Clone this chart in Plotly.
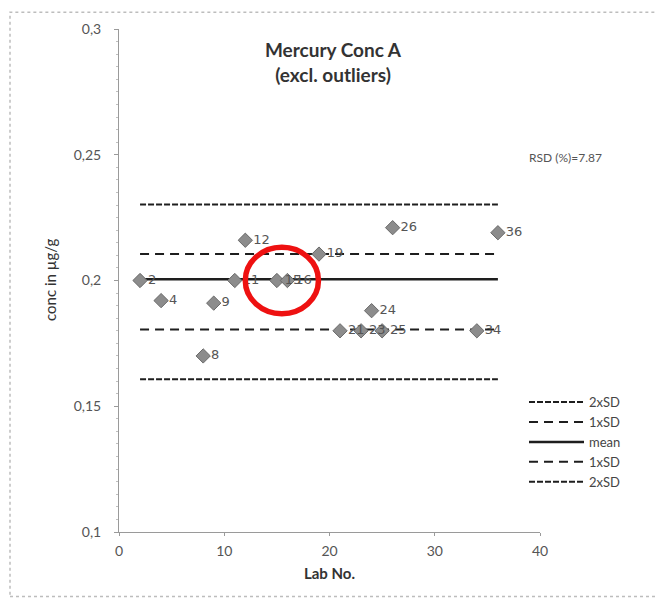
import plotly.graph_objects as go

# ---- data ----
labs = [2, 4, 8, 9, 11, 12, 15, 16, 19, 21, 23, 24, 25, 26, 34, 36]
conc = [0.200, 0.192, 0.170, 0.191, 0.200, 0.216, 0.200, 0.200, 0.2105,
        0.180, 0.180, 0.188, 0.180, 0.221, 0.180, 0.219]

line_x = [2, 36]
upper_2sd = 0.2302
upper_1sd = 0.2105
mean_val = 0.2005
lower_1sd = 0.1805
lower_2sd = 0.1607

y_tickvals = [0.1, 0.15, 0.2, 0.25, 0.3]
y_ticktext = ["0,1", "0,15", "0,2", "0,25", "0,3"]
x_tickvals = [0, 10, 20, 30, 40]
x_ticktext = ["0", "10", "20", "30", "40"]

rsd_text = "RSD (%)=7.87"

# page offset (body margin) and plot-area geometry in figure pixels
OFF = 8
PL, PR, PT, PB = 119 - OFF, 540 - OFF, 25 - OFF, 532 - OFF
W, H = 664, 602
PW, PH = PR - PL, PB - PT


def px(x):  # screen x -> paper
    return (x - OFF - PL) / PW


def py(y):  # screen y -> paper
    return (PB - (y - OFF)) / PH


fig = go.Figure()

lines = [
    ("2xSD", upper_2sd, "6px,2px", 2),
    ("1xSD", upper_1sd, "9px,6px", 2),
    ("mean", mean_val, "solid", 2.5),
    ("1xSD", lower_1sd, "9px,6px", 2),
    ("2xSD", lower_2sd, "6px,2px", 2),
]
for name, val, dash, w in lines:
    fig.add_trace(go.Scatter(
        x=line_x, y=[val, val], mode="lines", name=name,
        line=dict(color="#1e1e1e", width=w, dash=dash),
        hoverinfo="skip",
    ))

fig.add_trace(go.Scatter(
    x=labs, y=conc, mode="markers+text",
    text=[str(l) for l in labs], textposition="middle right",
    textfont=dict(family="DejaVu Sans", size=13, color="#555555"),
    marker=dict(symbol="diamond", size=11, color="#8c8c8c",
                line=dict(color="#6a6a6a", width=1)),
    showlegend=False,
))

# red highlight circle
fig.add_shape(type="circle", xref="x", yref="y",
              x0=12.0, x1=18.95, y0=0.1868, y1=0.2132,
              line=dict(color="#ee1111", width=5.5))

# outer frame
fig.add_shape(type="rect", xref="paper", yref="paper",
              x0=px(10), x1=px(700), y0=py(597), y1=py(8),
              line=dict(color="#bdbdbd", width=1.5, dash="dot"))

fig.add_annotation(text=rsd_text, xref="paper", yref="paper",
                   x=px(565), y=py(155), xanchor="center", yanchor="middle",
                   showarrow=False,
                   font=dict(family="Lato", size=12, color="#555555"))

fig.add_annotation(text="conc in µg/g", xref="paper", yref="paper",
                   x=px(50), y=py(278), xanchor="center", yanchor="middle",
                   textangle=-90, showarrow=False,
                   font=dict(family="Lato", size=15, color="#333333"))

fig.update_layout(
    width=W, height=H,
    margin=dict(l=PL, r=W - PR, t=PT, b=H - PB),
    paper_bgcolor="white", plot_bgcolor="white",
    title=dict(text="<b>Mercury Conc A<br>(excl. outliers)</b>",
               x=(333 - OFF) / W, xanchor="center",
               y=1 - (57 - OFF) / H, yanchor="middle",
               font=dict(family="Lato", size=19, color="#333333")),
    font=dict(family="Lato", color="#555555"),
    showlegend=True,
    legend=dict(x=px(524), y=py(386),
                xanchor="left", yanchor="top",
                bgcolor="rgba(0,0,0,0)", tracegroupgap=0,
                font=dict(family="Lato", size=13, color="#444444"),
                itemwidth=55),
    xaxis=dict(range=[0, 40], tickvals=x_tickvals, ticktext=x_ticktext,
               showgrid=False, zeroline=False, showline=True,
               linecolor="#9a9a9a", linewidth=1, ticks="outside",
               ticklen=3, tickcolor="#9a9a9a", ticklabelstandoff=3,
               tickfont=dict(family="Lato", size=14, color="#555555"),
               title=dict(text="<b>Lab No.</b>", standoff=10,
                          font=dict(family="Lato", size=15, color="#333333"))),
    yaxis=dict(range=[0.1, 0.3], tickvals=y_tickvals, ticktext=y_ticktext,
               showgrid=False, zeroline=False, showline=True,
               linecolor="#9a9a9a", linewidth=1, ticks="outside",
               ticklen=4, tickcolor="#9a9a9a", ticklabelstandoff=10,
               minor=dict(ticks="outside", ticklen=2, dtick=0.005,
                          tickcolor="#c0c0c0"),
               tickfont=dict(family="Lato", size=14, color="#555555")),
)

fig.write_html("out.html")
